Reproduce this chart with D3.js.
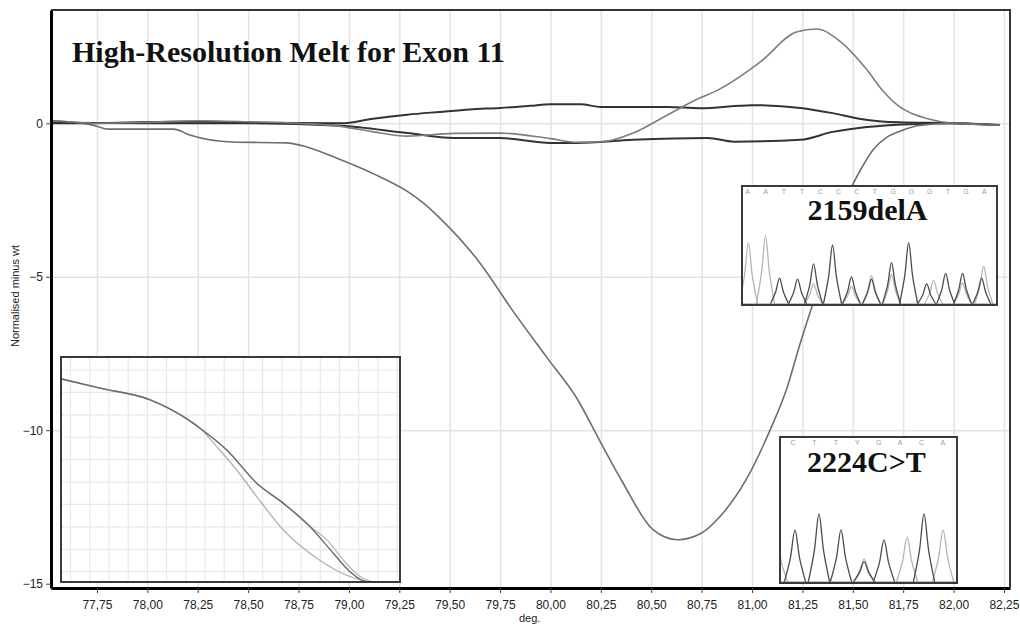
<!DOCTYPE html>
<meta charset="utf-8">
<head>
    <script src="https://d3js.org/d3.v7.min.js"></script>
    <title>High-Resolution Melt for Exon 11</title>
</head>
<body>
    <div id="melt_viz"></div>
</body>
<style>
    body {
        margin: 0;
        background: #fff;
        font-family: 'Liberation Sans', Arial, sans-serif;
    }
    .serif { font-family: 'Liberation Serif', 'Times New Roman', serif; font-weight: bold; }
</style>
<script>

    // axis ticks
    var xTicks = [77.75, 78.00, 78.25, 78.50, 78.75, 79.00, 79.25, 79.50, 79.75, 80.00, 80.25, 80.50, 80.75, 81.00, 81.25, 81.50, 81.75, 82.00, 82.25];
    var yTicks = [0, -5, -10, -15];

    // difference curves (deg, normalised minus wt)
    var mainX = [77.53, 77.73, 77.81, 78.13, 78.21, 78.42, 78.69, 78.79, 78.96, 79.12, 79.29, 79.37, 79.45, 79.65, 79.81, 79.98, 80.13, 80.25, 80.36, 80.51, 80.63, 80.75, 80.84, 80.97, 81.09, 81.17, 81.24, 81.30, 81.40, 81.50, 81.54, 81.60, 81.67, 81.75, 81.82, 82.00, 82.23];
    var mainY = [0.08, -0.06, -0.19, -0.19, -0.38, -0.61, -0.64, -0.77, -1.19, -1.64, -2.22, -2.6, -3.08, -4.55, -6.08, -7.61, -8.95, -10.41, -11.72, -13.25, -13.57, -13.35, -12.82, -11.62, -9.99, -8.69, -7.15, -5.92, -3.9, -2.00, -1.5, -0.87, -0.45, -0.22, -0.08, 0.0, -0.06];

    var upX = [77.53, 77.75, 78.0, 78.25, 78.5, 78.96, 79.12, 79.29, 79.45, 79.6, 79.75, 79.9, 80.0, 80.15, 80.25, 80.58, 80.74, 81.0, 81.24, 81.40, 81.54, 81.73, 82.0, 82.23];
    var upY = [0.0, 0.0, 0.04, 0.06, 0.02, 0.0, 0.15, 0.28, 0.37, 0.45, 0.5, 0.57, 0.62, 0.62, 0.53, 0.53, 0.49, 0.59, 0.50, 0.33, 0.14, 0.03, 0.0, -0.06];

    var downX = [77.53, 78.0, 78.5, 78.96, 79.29, 79.52, 79.75, 80.0, 80.13, 80.41, 80.78, 80.91, 81.24, 81.40, 81.57, 81.82, 82.0, 82.23];
    var downY = [0.02, 0.0, 0.0, -0.08, -0.32, -0.48, -0.48, -0.64, -0.64, -0.54, -0.48, -0.6, -0.54, -0.28, -0.12, -0.02, 0.0, -0.06];

    var peakX = [77.53, 77.75, 78.0, 78.25, 78.5, 78.75, 78.96, 79.12, 79.29, 79.52, 79.75, 80.0, 80.13, 80.25, 80.41, 80.58, 80.74, 80.83, 81.04, 81.22, 81.32, 81.44, 81.57, 81.65, 81.73, 81.80, 81.87, 82.0, 82.23];
    var peakY = [0.08, 0.0, 0.03, 0.08, 0.05, 0.0, -0.1, -0.28, -0.42, -0.33, -0.32, -0.5, -0.62, -0.61, -0.32, 0.27, 0.82, 1.08, 1.99, 2.97, 3.07, 2.65, 1.74, 1.05, 0.55, 0.3, 0.15, 0.0, -0.06];

    // melt curve inset (grid units)
    var meltX = [-1.46, 0.53, 3.14, 4.87, 5.74, 6.61, 7.65, 8.69, 10.08, 11.82, 13.55, 14.94, 15.9];
    var meltLowY = [8.60, 8.19, 7.67, 6.92, 6.40, 5.58, 4.54, 3.35, 1.86, 0.60, -0.22, -0.46, -0.46];
    var meltDarkX = [-1.46, 0.53, 3.14, 4.87, 5.74, 7.13, 8.69, 10.08, 11.47, 12.68, 13.55, 14.42, 15.9];
    var meltDarkY = [8.60, 8.19, 7.67, 6.92, 6.40, 5.43, 3.95, 3.05, 2.01, 0.82, 0.0, -0.45, -0.46];
    var meltLightX = [-1.46, 0.53, 3.14, 4.87, 5.74, 7.13, 8.69, 10.08, 11.47, 12.34, 13.20, 14.07, 14.94, 15.9];
    var meltLightY = [8.60, 8.19, 7.67, 6.92, 6.40, 5.43, 3.95, 3.05, 2.01, 1.42, 0.52, -0.22, -0.46, -0.46];

    // 2159delA chromatogram (base index, relative height)
    var delASeq = ["A", "A", "T", "T", "C", "C", "C", "T", "G", "G", "G", "T", "G", "A"];
    var delADarkPos = [1.76, 2.75, 3.63, 4.67, 5.71, 6.81, 7.91, 8.85, 9.84, 10.88, 11.81, 12.86];
    var delADarkH = [0.22, 0.21, 0.34, 0.50, 0.23, 0.21, 0.35, 0.52, 0.17, 0.26, 0.26, 0.22];
    var delALightPos = [0.05, 0.99, 3.63, 5.71, 6.81, 7.91, 10.22, 11.81, 12.97];
    var delALightH = [0.52, 0.58, 0.17, 0.15, 0.24, 0.25, 0.20, 0.18, 0.32];

    // 2224C>T chromatogram
    var ctSeq = ["C", "T", "T", "Y", "G", "A", "C", "A"];
    var ctDarkPos = [0.09, 1.21, 2.24, 3.32, 4.25, 6.12];
    var ctDarkH = [0.36, 0.47, 0.36, 0.14, 0.29, 0.47];
    var ctLightPos = [-0.75, 3.32, 5.33, 7.01];
    var ctLightH = [0.28, 0.16, 0.31, 0.36];

    var margin = { top: 10, right: 10, bottom: 38, left: 51 },
        width = 1020 - margin.left - margin.right,
        height = 626 - margin.top - margin.bottom;

    var svg = d3.select("#melt_viz")
        .append("svg")
        .attr("width", 1020)
        .attr("height", 626);

    var g = svg.append("g")
        .attr("transform", "translate(" + margin.left + "," + margin.top + ")");

    var x = d3.scaleLinear().domain([77.522, 82.28]).range([0, width]);
    var y = d3.scaleLinear().domain([-15.14, 3.69]).range([height, 0]);

    var locale = d3.formatLocale({ decimal: ",", thousands: ".", grouping: [3], currency: ["", ""] });
    var fmt = locale.format(".2f");

    // grid
    g.append("g")
        .attr("transform", "translate(0," + height + ")")
        .call(d3.axisBottom(x).tickValues(xTicks).tickSize(-height).tickFormat(""))
        .call(function (s) { s.select(".domain").remove(); })
        .selectAll("line").attr("stroke", "#e4e4e4").attr("stroke-width", 1.5);
    g.append("g")
        .call(d3.axisLeft(y).tickValues(yTicks.slice(0, 3)).tickSize(-width).tickFormat(""))
        .call(function (s) { s.select(".domain").remove(); })
        .selectAll("line").attr("stroke", "#e4e4e4").attr("stroke-width", 1.5);

    var line = d3.line()
        .x(function (d) { return x(d[0]); })
        .y(function (d) { return y(d[1]); })
        .curve(d3.curveMonotoneX);

    function pairs(a, b) { return a.map(function (v, i) { return [v, b[i]]; }); }

    var curves = [
        { xs: upX, ys: upY, color: "#333", w: 2 },
        { xs: downX, ys: downY, color: "#333", w: 2 },
        { xs: peakX, ys: peakY, color: "#7d7d7d", w: 1.6 },
        { xs: mainX, ys: mainY, color: "#6e6e6e", w: 1.6 }
    ];
    g.selectAll(".curve")
        .data(curves)
        .enter()
        .append("path")
        .attr("class", "curve")
        .attr("fill", "none")
        .attr("stroke", function (d) { return d.color; })
        .attr("stroke-width", function (d) { return d.w; })
        .attr("d", function (d) { return line(pairs(d.xs, d.ys)); });

    // title
    svg.append("text")
        .attr("class", "serif")
        .attr("x", 72)
        .attr("y", 62)
        .attr("font-size", 30)
        .attr("fill", "#111")
        .text("High-Resolution Melt for Exon 11");

    // ---- melt curve inset
    var m = { x0: 61, x1: 400, y0: 357, y1: 582 };
    var ix = d3.scaleLinear().domain([-1.5, 16.15]).range([m.x0, m.x1]);
    var iy = d3.scaleLinear().domain([-0.46, 9.58]).range([m.y1, m.y0]);
    svg.append("clipPath").attr("id", "clipMelt")
        .append("rect").attr("x", m.x0).attr("y", m.y0).attr("width", m.x1 - m.x0).attr("height", m.y1 - m.y0);
    var mg = svg.append("g");
    mg.append("rect").attr("x", m.x0).attr("y", m.y0).attr("width", m.x1 - m.x0).attr("height", m.y1 - m.y0).attr("fill", "#fff");
    var mgc = mg.append("g").attr("clip-path", "url(#clipMelt)");
    mgc.selectAll(".vg").data(ix.ticks(18)).enter().append("line")
        .attr("x1", ix).attr("x2", ix).attr("y1", m.y0).attr("y2", m.y1)
        .attr("stroke", "#e8e8e8").attr("stroke-width", 1.2);
    mgc.selectAll(".hg").data(iy.ticks(10)).enter().append("line")
        .attr("y1", iy).attr("y2", iy).attr("x1", m.x0).attr("x2", m.x1)
        .attr("stroke", "#e8e8e8").attr("stroke-width", 1.2);
    var mline = d3.line()
        .x(function (d) { return ix(d[0]); })
        .y(function (d) { return iy(d[1]); })
        .curve(d3.curveMonotoneX);
    var melts = [
        { xs: meltX, ys: meltLowY, color: "#b4b4b4" },
        { xs: meltLightX, ys: meltLightY, color: "#bdbdbd" },
        { xs: meltDarkX, ys: meltDarkY, color: "#6a6a6a" }
    ];
    mgc.selectAll(".melt").data(melts).enter().append("path")
        .attr("fill", "none")
        .attr("stroke", function (d) { return d.color; })
        .attr("stroke-width", 1.4)
        .attr("d", function (d) { return mline(pairs(d.xs, d.ys)); });
    mg.append("rect").attr("x", m.x0).attr("y", m.y0).attr("width", m.x1 - m.x0).attr("height", m.y1 - m.y0)
        .attr("fill", "none").attr("stroke", "#3a3a3a").attr("stroke-width", 2);

    // ---- chromatogram insets
    function chromatogram(box, id, seq, x0, x1, label, labelY, darkPos, darkH, lightPos, lightH) {
        var cx = d3.scaleLinear().domain([x0, x1]).range([box.x0, box.x1]);
        var cy = d3.scaleLinear().domain([0, 1]).range([box.y1 - 1, box.y0]);
        svg.append("clipPath").attr("id", id)
            .append("rect").attr("x", box.x0).attr("y", box.y0).attr("width", box.x1 - box.x0).attr("height", box.y1 - box.y0);
        var cg = svg.append("g");
        cg.append("rect").attr("x", box.x0).attr("y", box.y0).attr("width", box.x1 - box.x0).attr("height", box.y1 - box.y0).attr("fill", "#fff");
        var cc = cg.append("g").attr("clip-path", "url(#" + id + ")");
        var pline = d3.line()
            .x(function (d) { return cx(d[0]); })
            .y(function (d) { return cy(d[1]); })
            .curve(d3.curveCatmullRom);
        function peakPts(p, h) {
            return [[p - 0.5, 0], [p - 0.22, h * 0.45], [p, h], [p + 0.22, h * 0.45], [p + 0.5, 0]];
        }
        cc.selectAll(".lp").data(lightPos).enter().append("path")
            .attr("fill", "none").attr("stroke", "#b5b5b5").attr("stroke-width", 1.3)
            .attr("d", function (p, i) { return pline(peakPts(p, lightH[i])); });
        cc.selectAll(".dp").data(darkPos).enter().append("path")
            .attr("fill", "none").attr("stroke", "#4d4d4d").attr("stroke-width", 1.3)
            .attr("d", function (p, i) { return pline(peakPts(p, darkH[i])); });
        cc.append("line").attr("x1", box.x0).attr("x2", box.x1).attr("y1", cy(0)).attr("y2", cy(0))
            .attr("stroke", "#888").attr("stroke-width", 1);
        cc.selectAll(".base").data(seq).enter().append("text")
            .attr("x", function (d, i) { return cx(i); })
            .attr("y", box.y0 + 8)
            .attr("text-anchor", "middle")
            .attr("font-size", 7)
            .attr("fill", "#9a9a9a")
            .text(function (d) { return d; });
        cg.append("text")
            .attr("class", "serif")
            .attr("x", (box.x0 + box.x1) / 2 - 2)
            .attr("y", labelY)
            .attr("text-anchor", "middle")
            .attr("font-size", 30)
            .attr("fill", "#111")
            .text(label);
        cg.append("rect").attr("x", box.x0).attr("y", box.y0).attr("width", box.x1 - box.x0).attr("height", box.y1 - box.y0)
            .attr("fill", "none").attr("stroke", "#3a3a3a").attr("stroke-width", 2);
    }

    chromatogram({ x0: 742, x1: 997, y0: 186, y1: 305 }, "clipDel", delASeq, -0.3, 13.7, "2159delA", 220,
        delADarkPos, delADarkH, delALightPos, delALightH);
    chromatogram({ x0: 780, x1: 957, y0: 437, y1: 583 }, "clipCT", ctSeq, -0.61, 7.66, "2224C>T", 472,
        ctDarkPos, ctDarkH, ctLightPos, ctLightH);

    // axes
    var xAxis = g.append("g")
        .attr("transform", "translate(0," + height + ")")
        .call(d3.axisBottom(x).tickValues(xTicks).tickSize(5).tickSizeOuter(0).tickFormat(fmt));
    xAxis.select(".domain").attr("stroke", "#000").attr("stroke-width", 3);
    xAxis.selectAll(".tick line").attr("stroke", "#444");
    xAxis.selectAll("text").attr("font-size", 12).attr("fill", "#222").attr("dy", "1.05em")
        .attr("font-family", "'Liberation Sans', Arial, sans-serif");

    var yAxis = g.append("g")
        .call(d3.axisLeft(y).tickValues(yTicks).tickSize(5).tickSizeOuter(0).tickFormat(d3.format("d")));
    yAxis.select(".domain").attr("stroke", "#000").attr("stroke-width", 3);
    yAxis.selectAll(".tick line").attr("stroke", "#444");
    yAxis.selectAll("text").attr("font-size", 12).attr("fill", "#222")
        .attr("font-family", "'Liberation Sans', Arial, sans-serif");

    // top and right border
    g.append("path")
        .attr("d", "M0,0H" + width + "V" + height)
        .attr("fill", "none").attr("stroke", "#333").attr("stroke-width", 2);

    // axis labels
    svg.append("text")
        .attr("x", 519)
        .attr("y", 622)
        .attr("font-size", 11)
        .attr("fill", "#222")
        .text("deg.");
    svg.append("text")
        .attr("transform", "translate(19,296) rotate(-90)")
        .attr("text-anchor", "middle")
        .attr("font-size", 11)
        .attr("fill", "#222")
        .text("Normalised minus wt");

</script>
